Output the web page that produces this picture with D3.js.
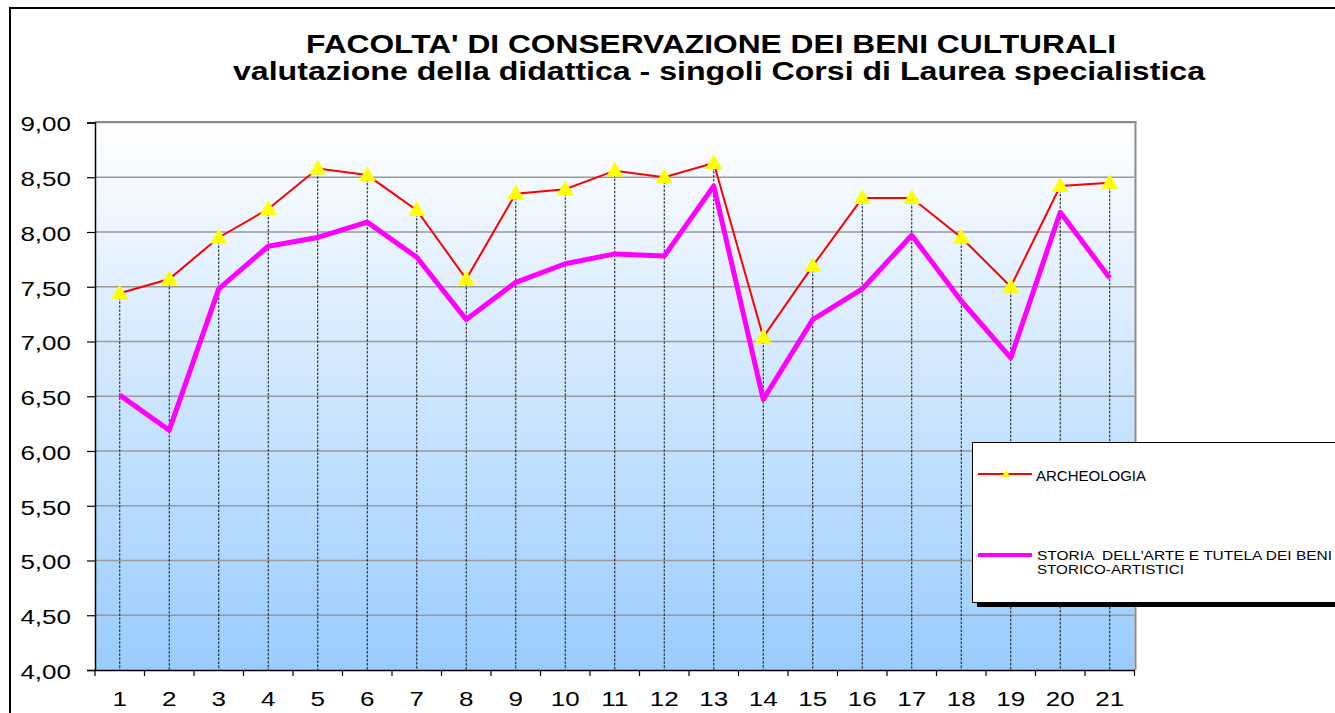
<!DOCTYPE html>
<html><head><meta charset="utf-8">
<script src="https://cdn.jsdelivr.net/npm/d3@7/dist/d3.min.js"></script>
<style>
html,body{margin:0;padding:0;background:#fff;}
svg{display:block;font-family:"Liberation Sans",Arial,sans-serif;}
text{white-space:pre;}
</style></head>
<body>
<svg id="chart" width="1335" height="713"></svg>
<script>
const titleLines = ["FACOLTA' DI CONSERVAZIONE DEI BENI CULTURALI",
  "valutazione della didattica - singoli Corsi di Laurea specialistica"];
const categories = ["1","2","3","4","5","6","7","8","9","10","11","12","13","14","15","16","17","18","19","20","21"];
const archeologia = [7.44,7.57,7.95,8.21,8.58,8.52,8.20,7.57,8.35,8.39,8.56,8.50,8.63,7.04,7.69,8.31,8.31,7.95,7.50,8.42,8.45];
const storiaArte  = [6.51,6.19,7.48,7.87,7.95,8.09,7.77,7.20,7.54,7.71,7.80,7.78,8.42,6.47,7.20,7.48,7.97,7.37,6.85,8.18,7.58];
const yTicks = [4.0,4.5,5.0,5.5,6.0,6.5,7.0,7.5,8.0,8.5,9.0];
const seriesNames = ["ARCHEOLOGIA", ["STORIA  DELL'ARTE E TUTELA DEI BENI","STORICO-ARTISTICI"]];

const svg = d3.select("#chart");
const L = 95, R = 1134.5, T = 122.5, B = 670;

// outer frame
svg.append("line").attr("x1",9).attr("x2",1335).attr("y1",8).attr("y2",8).attr("stroke","#000").attr("stroke-width",2);
svg.append("line").attr("x1",10).attr("x2",10).attr("y1",7).attr("y2",713).attr("stroke","#000").attr("stroke-width",2);

// title
const tW = [810, 972], tX = [711, 719], tY = [53, 80];
titleLines.forEach((t,i)=>{
  svg.append("text").attr("x",tX[i]).attr("y",tY[i]).attr("text-anchor","middle")
    .attr("font-size",25).attr("font-weight","bold").attr("fill","#000")
    .attr("textLength",tW[i]).attr("lengthAdjust","spacingAndGlyphs").text(t);
});

const x = d3.scaleBand().domain(categories).range([L,R]).padding(0);
const y = d3.scaleLinear().domain([4,9]).range([B,T]);

// gradient
const defs = svg.append("defs");
const g = defs.append("linearGradient").attr("id","bg").attr("x1",0).attr("x2",0).attr("y1",0).attr("y2",1);
g.append("stop").attr("offset","0%").attr("stop-color","#ffffff");
g.append("stop").attr("offset","100%").attr("stop-color","#99ccff");
svg.append("rect").attr("x",L).attr("y",T).attr("width",R-L).attr("height",B-T).attr("fill","url(#bg)");

// gridlines
svg.append("g").selectAll("line").data(yTicks.filter(d=>d>4)).join("line")
  .attr("x1",L).attr("x2",R).attr("y1",d=>y(d)).attr("y2",d=>y(d))
  .attr("stroke","#9a9a9a").attr("stroke-width",1.5);
// plot border right / top
svg.append("line").attr("x1",R+1).attr("x2",R+1).attr("y1",T-0.75).attr("y2",B).attr("stroke","#8a8a8a").attr("stroke-width",2);
svg.append("line").attr("x1",L).attr("x2",R+2).attr("y1",T-0.5).attr("y2",T-0.5).attr("stroke","#8a8a8a").attr("stroke-width",2);

// drop lines
svg.append("g").selectAll("line").data(categories).join("line")
  .attr("x1",d=>x(d)+x.bandwidth()/2).attr("x2",d=>x(d)+x.bandwidth()/2)
  .attr("y1",(d,i)=>y(Math.max(archeologia[i],storiaArte[i]))).attr("y2",B)
  .attr("stroke","#111").attr("stroke-width",1).attr("stroke-dasharray","2.5,1.5");

// axes
const yAxis = svg.append("g").attr("transform",`translate(${L},0)`)
  .call(d3.axisLeft(y).tickValues(yTicks).tickSize(8).tickPadding(16)
    .tickFormat(d=>d3.format(".2f")(d).replace(".",",")));
yAxis.select(".domain").attr("stroke","#000").attr("stroke-width",1.5);
yAxis.selectAll(".tick line").attr("stroke","#000").attr("stroke-width",1.2);
yAxis.selectAll(".tick text").attr("font-size",20).attr("fill","#000").attr("dy","0.42em")
  .attr("font-family","Liberation Sans, Arial, sans-serif");

const xAxis = svg.append("g").attr("transform",`translate(0,${B})`)
  .call(d3.axisBottom(x).tickSize(0).tickPadding(22));
xAxis.select(".domain").attr("stroke","#000").attr("stroke-width",1.5);
xAxis.selectAll(".tick text").attr("font-size",20).attr("fill","#000")
  .attr("font-family","Liberation Sans, Arial, sans-serif");
svg.append("g").selectAll("line").data(d3.range(categories.length+1)).join("line")
  .attr("x1",i=>L+i*x.bandwidth()).attr("x2",i=>L+i*x.bandwidth())
  .attr("y1",B).attr("y2",B+6).attr("stroke","#000").attr("stroke-width",1.2);

// stretch axis labels horizontally (Excel-like wide rendering)
svg.selectAll(".tick text").each(function(){
  const w = this.getComputedTextLength();
  d3.select(this).attr("textLength", w*1.3).attr("lengthAdjust","spacingAndGlyphs");
});

// lines
const line = (arr)=>d3.line().x((d,i)=>x(categories[i])+x.bandwidth()/2).y(d=>y(d))(arr);
svg.append("path").attr("d",line(storiaArte)).attr("fill","none").attr("stroke","#ff00ff").attr("stroke-width",5).attr("stroke-linejoin","round");
svg.append("path").attr("d",line(archeologia)).attr("fill","none").attr("stroke","#ff0000").attr("stroke-width",2);
const tri = d3.symbol().type(d3.symbolTriangle).size(125);
svg.append("g").selectAll("path").data(archeologia).join("path")
  .attr("d",tri).attr("transform",(d,i)=>`translate(${x(categories[i])+x.bandwidth()/2},${y(d)+1})`)
  .attr("fill","#ffff00");

// legend
const lg = svg.append("g");
lg.append("rect").attr("x",977).attr("y",447).attr("width",400).attr("height",160).attr("fill","#000");
lg.append("rect").attr("x",972.5).attr("y",442.5).attr("width",400).attr("height",160).attr("fill","#fff").attr("stroke","#000").attr("stroke-width",1);
lg.append("line").attr("x1",978).attr("x2",1032).attr("y1",474).attr("y2",474).attr("stroke","#ff0000").attr("stroke-width",2);
lg.append("path").attr("d",d3.symbol().type(d3.symbolTriangle).size(32)).attr("transform","translate(1006,474.5)").attr("fill","#ffff00");
lg.append("text").attr("x",1036).attr("y",480.5).attr("font-size",14).attr("fill","#000")
  .attr("textLength",110).attr("lengthAdjust","spacingAndGlyphs").text(seriesNames[0]);
lg.append("line").attr("x1",978).attr("x2",1032).attr("y1",555).attr("y2",555).attr("stroke","#ff00ff").attr("stroke-width",4);
lg.append("text").attr("x",1037).attr("y",560).attr("font-size",13).attr("fill","#000")
  .attr("textLength",295).attr("lengthAdjust","spacingAndGlyphs").text(seriesNames[1][0]);
lg.append("text").attr("x",1037).attr("y",574).attr("font-size",13).attr("fill","#000")
  .attr("textLength",147).attr("lengthAdjust","spacingAndGlyphs").text(seriesNames[1][1]);
</script>
</body></html>
